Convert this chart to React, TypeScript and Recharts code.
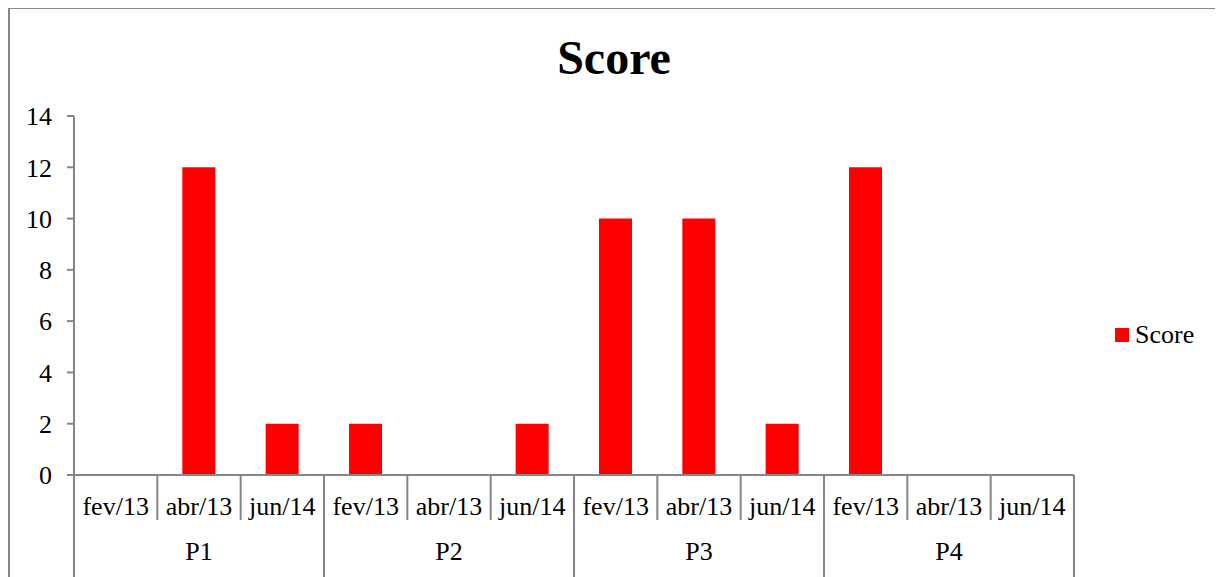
import { BarChart, Bar, XAxis, YAxis, Legend } from 'recharts';

const months = ['fev/13', 'abr/13', 'jun/14'];
const groups = ['P1', 'P2', 'P3', 'P4'];
const scores = [0, 12, 2, 2, 0, 2, 10, 10, 2, 12, 0, 0];
const yTicks = [0, 2, 4, 6, 8, 10, 12, 14];

const data = scores.map((score, i) => ({
  month: months[i % months.length],
  group: groups[Math.floor(i / months.length)],
  score,
}));

const FONT = '"Liberation Serif", "Times New Roman", serif';
const AXIS = '#868686';
const LABEL_SIZE = 26;
const MONTH_ROW = 45;
const GROUP_ROW = 57;

const MonthTick = (props: any) => {
  const { x, y, payload, index } = props;
  const half = payload.offset ?? 0;
  return (
    <g>
      <line x1={x - half} y1={y} x2={x - half} y2={y + MONTH_ROW} stroke={AXIS} strokeWidth={2} />
      {index === data.length - 1 && (
        <line x1={x + half} y1={y} x2={x + half} y2={y + MONTH_ROW} stroke={AXIS} strokeWidth={2} />
      )}
      <text x={x} y={y + 31} dy="0.35em" textAnchor="middle" fontSize={LABEL_SIZE} fontFamily={FONT} fill="#000">
        {payload.value}
      </text>
    </g>
  );
};

const GroupTick = (props: any) => {
  const { x, y, payload, index } = props;
  const half = payload.offset ?? 0;
  const pos = index % months.length;
  return (
    <g>
      {pos === 0 && (
        <line x1={x - half} y1={y} x2={x - half} y2={y + GROUP_ROW} stroke={AXIS} strokeWidth={2} />
      )}
      {index === data.length - 1 && (
        <line x1={x + half} y1={y} x2={x + half} y2={y + GROUP_ROW} stroke={AXIS} strokeWidth={2} />
      )}
      {pos === 1 && (
        <text x={x} y={y + 31} dy="0.35em" textAnchor="middle" fontSize={LABEL_SIZE} fontFamily={FONT} fill="#000">
          {payload.value}
        </text>
      )}
    </g>
  );
};

const LegendBox = () => (
  <div style={{ display: 'flex', alignItems: 'center', paddingLeft: 41, height: 30, fontFamily: FONT, fontSize: LABEL_SIZE }}>
    <span style={{ display: 'inline-block', width: 14, height: 14, background: '#FF0000', marginRight: 6 }} />
    <span style={{ color: '#000' }}>Score</span>
  </div>
);

const App = () => {
  return (
    <div
      style={{
        position: 'relative',
        marginTop: -1,
        width: 1212,
        height: 570,
        boxSizing: 'border-box',
        borderTop: `2px solid ${AXIS}`,
        borderLeft: `2px solid ${AXIS}`,
        borderRight: `2px solid ${AXIS}`,
        overflow: 'hidden',
        background: '#fff',
      }}
    >
      <div
        style={{
          position: 'absolute',
          top: 21,
          left: 0,
          width: '100%',
          textAlign: 'center',
          fontFamily: FONT,
          fontWeight: 'bold',
          fontSize: 48,
          lineHeight: 'normal',
          color: '#000',
        }}
      >
        Score
      </div>
      <BarChart
        width={1208}
        height={568}
        data={data}
        margin={{ top: 107, right: 0, bottom: 0, left: 0 }}
        barCategoryGap="30%"
      >
        {/* inner row: months, outer row: P1..P4 */}
        <XAxis
          xAxisId={0}
          dataKey="month"
          interval={0}
          height={MONTH_ROW}
          tickSize={0}
          tickMargin={0}
          tickLine={false}
          axisLine={{ stroke: AXIS, strokeWidth: 2 }}
          tick={<MonthTick />}
        />
        <XAxis
          xAxisId={1}
          dataKey="group"
          interval={0}
          height={GROUP_ROW}
          tickSize={0}
          tickMargin={0}
          tickLine={false}
          axisLine={false}
          tick={<GroupTick />}
        />
        <YAxis
          width={64}
          domain={[0, 14]}
          ticks={yTicks}
          interval={0}
          tickSize={7}
          tickMargin={15}
          axisLine={{ stroke: AXIS, strokeWidth: 2 }}
          tickLine={{ stroke: AXIS, strokeWidth: 2 }}
          tick={{ fontSize: LABEL_SIZE, fontFamily: FONT, fill: '#000' }}
        />
        <Legend
          layout="vertical"
          align="right"
          verticalAlign="middle"
          wrapperStyle={{ width: 144, top: 311 }}
          content={<LegendBox />}
        />
        <Bar dataKey="score" xAxisId={0} fill="#FF0000" isAnimationActive={false} />
      </BarChart>
    </div>
  );
};

export default App;
